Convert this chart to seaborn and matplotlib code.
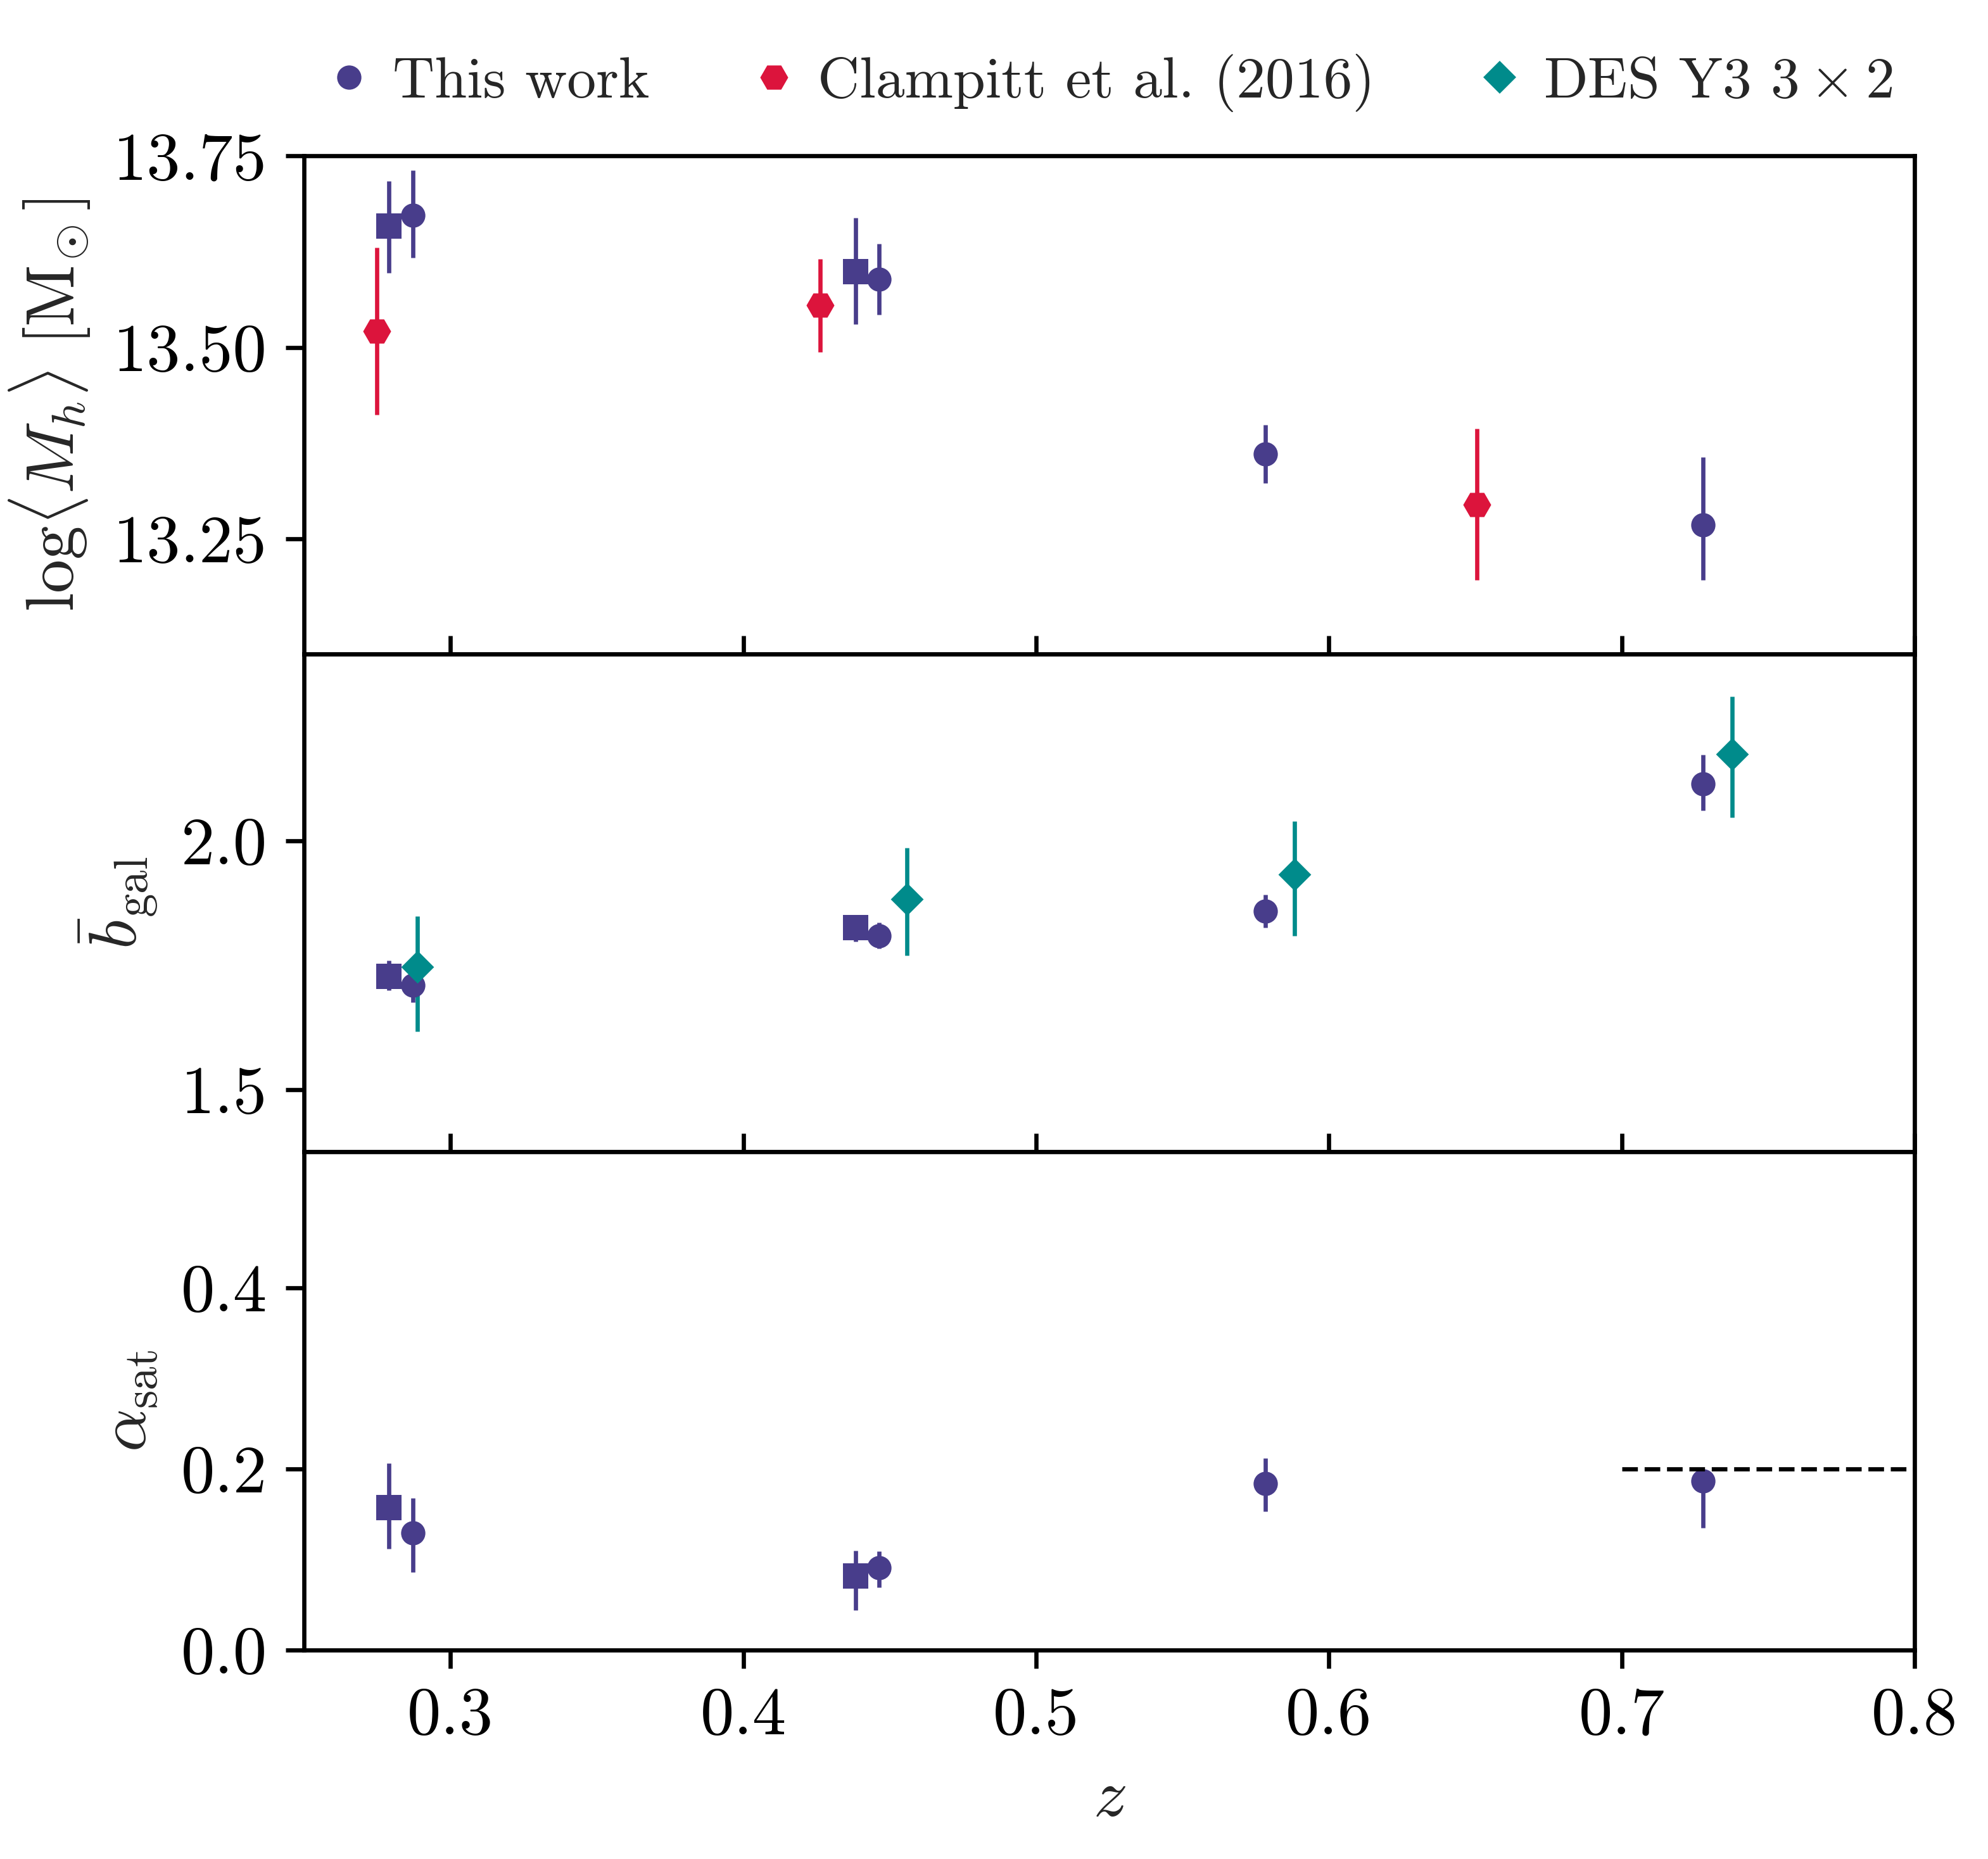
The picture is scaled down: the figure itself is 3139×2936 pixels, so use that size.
import numpy as np
import pandas as pd
import matplotlib
matplotlib.use("Agg")
import matplotlib.pyplot as plt
from matplotlib.lines import Line2D
import seaborn as sns

# ---------------- data ----------------
z_this = [0.2872, 0.4463, 0.5784, 0.7277]
z_this_sq = [0.2790, 0.4384]
z_clampitt = [0.2748, 0.4262, 0.6506]
z_des = [0.2887, 0.4560, 0.5883, 0.7378]

logM_this = [13.672, 13.589, 13.361, 13.268]
logM_this_lo = [0.055, 0.046, 0.038, 0.072]
logM_this_hi = [0.059, 0.046, 0.038, 0.089]
logM_sq = [13.658, 13.599]
logM_sq_lo = [0.061, 0.069]
logM_sq_hi = [0.059, 0.070]
logM_clampitt = [13.521, 13.555, 13.295]
logM_clampitt_lo = [0.109, 0.061, 0.099]
logM_clampitt_hi = [0.109, 0.060, 0.099]

bgal_this = [1.710, 1.809, 1.858, 2.114]
bgal_this_lo = [0.035, 0.026, 0.032, 0.054]
bgal_this_hi = [0.028, 0.026, 0.033, 0.058]
bgal_sq = [1.727, 1.825]
bgal_sq_lo = [0.028, 0.027]
bgal_sq_hi = [0.032, 0.026]
bgal_des = [1.747, 1.882, 1.932, 2.174]
bgal_des_lo = [0.130, 0.112, 0.123, 0.128]
bgal_des_hi = [0.101, 0.104, 0.107, 0.115]

alpha_this = [0.129, 0.091, 0.184, 0.187]
alpha_this_lo = [0.043, 0.022, 0.031, 0.052]
alpha_this_hi = [0.039, 0.018, 0.028, 0.010]
alpha_sq = [0.157, 0.082]
alpha_sq_lo = [0.045, 0.038]
alpha_sq_hi = [0.049, 0.028]

alpha_ref_z = [0.7, 0.8]
alpha_ref_val = 0.2

legend_labels = ["This work", "Clampitt et al. (2016)", r"DES Y3 $3\times 2$"]

x_ticks = [0.3, 0.4, 0.5, 0.6, 0.7, 0.8]
logM_ticks = [13.25, 13.50, 13.75]
bgal_ticks = [1.5, 2.0]
alpha_ticks = [0.0, 0.2, 0.4]

# ---------------- style ----------------
PURPLE = "#483D8B"
RED = "#DC143C"
TEAL = "#008B8B"
FS = 12.8
LEG_FS = 11.0
LW = 0.8

sns.set_theme(style="ticks")
plt.rcParams.update({
    "font.family": "serif",
    "font.serif": ["cmr10"],
    "mathtext.fontset": "cm",
    "axes.formatter.use_mathtext": True,
    "font.size": FS,
    "axes.linewidth": LW,
    "axes.edgecolor": "black",
    "xtick.major.size": 3.5,
    "ytick.major.size": 3.5,
    "xtick.major.width": LW,
    "ytick.major.width": LW,
    "xtick.color": "black",
    "ytick.color": "black",
    "xtick.labelsize": FS,
    "ytick.labelsize": FS,
    "axes.labelsize": FS,
    "legend.fontsize": LEG_FS,
})

W, H, DPI = 3139, 2936, 600
fig = plt.figure(figsize=(W / DPI, H / DPI), dpi=DPI)
gs = fig.add_gridspec(3, 1, left=480 / W, right=3023 / W,
                      top=1 - 246 / H, bottom=1 - 2606 / H, hspace=0)
ax0 = fig.add_subplot(gs[0])
ax1 = fig.add_subplot(gs[1], sharex=ax0)
ax2 = fig.add_subplot(gs[2], sharex=ax0)


def plot_set(ax, x, y, lo, hi, color, marker, ms):
    ax.errorbar(x, y, yerr=[lo, hi], fmt="none", ecolor=color,
                elinewidth=LW, capsize=0, zorder=2)
    df = pd.DataFrame({"x": x, "y": y})
    sns.scatterplot(data=df, x="x", y="y", ax=ax, marker=marker, s=ms ** 2,
                    color=color, linewidth=0, zorder=3, legend=False)


MS_O, MS_S, MS_H, MS_D = 4.6, 4.7, 5.3, 4.4

# top panel
plot_set(ax0, z_this_sq, logM_sq, logM_sq_lo, logM_sq_hi, PURPLE, "s", MS_S)
plot_set(ax0, z_this, logM_this, logM_this_lo, logM_this_hi, PURPLE, "o", MS_O)
plot_set(ax0, z_clampitt, logM_clampitt, logM_clampitt_lo, logM_clampitt_hi, RED, "H", MS_H)

# middle panel
plot_set(ax1, z_this_sq, bgal_sq, bgal_sq_lo, bgal_sq_hi, PURPLE, "s", MS_S)
plot_set(ax1, z_this, bgal_this, bgal_this_lo, bgal_this_hi, PURPLE, "o", MS_O)
plot_set(ax1, z_des, bgal_des, bgal_des_lo, bgal_des_hi, TEAL, "D", MS_D)

# bottom panel
plot_set(ax2, z_this_sq, alpha_sq, alpha_sq_lo, alpha_sq_hi, PURPLE, "s", MS_S)
plot_set(ax2, z_this, alpha_this, alpha_this_lo, alpha_this_hi, PURPLE, "o", MS_O)
ax2.plot(alpha_ref_z, [alpha_ref_val] * len(alpha_ref_z), ls="--", color="black",
         lw=LW, zorder=4)

# axes setup
ax0.set_xlim(0.25, 0.8)
ax0.set_xticks(x_ticks)
ax0.set_ylim(13.1, 13.75)
ax0.set_yticks(logM_ticks)
ax0.set_yticklabels([f"{t:.2f}" for t in logM_ticks])
ax1.set_ylim(1.375, 2.375)
ax1.set_yticks(bgal_ticks)
ax1.set_yticklabels([f"{t:.1f}" for t in bgal_ticks])
ax2.set_ylim(0.0, 0.55)
ax2.set_yticks(alpha_ticks)
ax2.set_yticklabels([f"{t:.1f}" for t in alpha_ticks])
ax2.set_xticklabels([f"{t:.1f}" for t in x_ticks])

for ax in (ax0, ax1):
    ax.tick_params(axis="x", direction="in", labelbottom=False)
ax2.tick_params(axis="x", direction="out")
for ax in (ax0, ax1, ax2):
    ax.tick_params(axis="y", direction="out")
    ax.set_xlabel("")
    for sp in ax.spines.values():
        sp.set_linewidth(LW)
        sp.set_color("black")

ax0.set_ylabel(r"$\mathrm{log}\langle M_h\rangle\ [\mathrm{M}_{\!\odot}]$")
ax1.set_ylabel(r"$\bar{b}_\mathrm{gal}$")
ax2.set_ylabel(r"$\alpha_\mathrm{sat}$")
ax2.set_xlabel(r"$z$")

handles = [
    Line2D([], [], ls="none", marker="o", ms=MS_O, color=PURPLE, mew=0),
    Line2D([], [], ls="none", marker="H", ms=MS_H, color=RED, mew=0),
    Line2D([], [], ls="none", marker="D", ms=MS_D, color=TEAL, mew=0),
]
ax0.legend(handles, legend_labels, loc="lower center", bbox_to_anchor=(0.5, 1.0),
           ncol=3, frameon=False, handlelength=0.8, handletextpad=0.35,
           columnspacing=1.75, borderaxespad=0.35)

fig.savefig("out.png", dpi=DPI)
